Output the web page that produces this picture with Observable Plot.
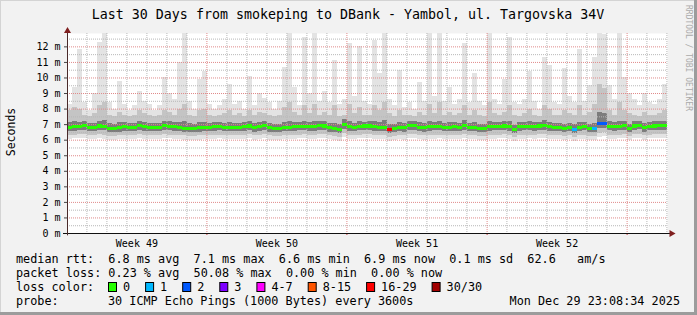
<!DOCTYPE html>
<html><head><meta charset="utf-8">
<script src="https://cdn.jsdelivr.net/npm/d3@7"></script>
<script src="https://cdn.jsdelivr.net/npm/@observablehq/plot@0.6"></script>
<style>
html,body{margin:0;padding:0;background:#f2f2f2;}
#chart{position:relative;width:697px;height:315px;overflow:hidden;}
svg text{white-space:pre;}
</style></head><body><div id="chart"></div>
<script>
// ---------- data ----------
const title = "Last 30 Days from smokeping to DBank - Yambol, ul. Targovska 34V";
const yLabel = "Seconds";
const watermark = "RRDTOOL / TOBI OETIKER";
const days = 30;
const yTicks = [0,1,2,3,4,5,6,7,8,9,10,11,12];
const weekBounds = [6.97, 13.97, 20.98, 27.98];
const weekLabels = ["Week 49", "Week 50", "Week 51", "Week 52"];

// median rtt (ms), 120 samples of 6 h
const med = [6.78,6.82,6.85,6.9,6.8,6.78,6.88,6.86,6.72,6.7,6.76,6.84,6.8,6.78,6.9,6.84,6.8,6.78,6.8,6.92,
6.86,6.82,6.8,6.74,6.72,6.7,6.76,6.8,6.78,6.84,6.86,6.8,6.8,6.8,6.8,6.84,6.88,6.76,6.82,6.9,
6.76,6.74,6.7,6.78,6.8,6.82,6.84,6.86,6.84,6.82,6.92,6.88,6.76,6.74,6.66,7.0,6.84,6.8,6.86,6.88,
6.88,6.84,6.8,6.78,6.68,6.72,6.78,6.76,6.9,6.92,6.8,6.76,6.82,6.84,6.86,6.78,6.8,6.82,6.78,6.92,
6.8,6.78,6.74,6.72,6.82,6.84,6.86,6.88,6.84,6.64,6.82,6.84,6.86,6.84,6.88,6.9,6.82,6.8,6.78,6.7,
6.78,6.66,6.8,6.84,6.72,6.74,7.04,7.06,6.84,6.82,6.86,6.9,6.74,6.88,6.92,6.76,6.86,6.88,6.9,6.9];
// max ping
const mx = [8.3,9.4,11.8,8.4,7.9,9.0,12.3,13,8.4,8.0,9.8,8.3,7.9,8.2,9.1,8.5,8.3,7.9,8.2,10.0,
9.0,8.6,11.0,13,8.5,8.0,9.9,10.4,8.3,8.0,8.2,8.6,9.6,8.3,8.5,8.0,10.1,8.2,9.0,8.7,
8.4,8.0,8.5,10.7,13,9.4,8.2,12.6,9.0,13,8.5,9.1,8.4,11.1,8.3,8.6,12.2,8.8,12.0,8.5,
8.3,12.4,10.3,13,8.6,8.2,10.5,8.1,8.4,8.0,9.7,8.5,13,8.8,13,8.5,9.4,8.3,8.6,12.2,
8.4,10.3,8.5,8.2,13,8.6,8.3,9.9,12.6,8.4,8.3,8.6,10.4,8.5,8.0,11.3,10.8,8.4,8.3,10.6,
8.8,8.4,11.8,8.5,9.5,11.3,13,12.8,9.5,8.6,13,10.0,9.0,8.6,8.2,9.0,8.4,8.3,8.6,9.6];
// upper smoke (about p90)
const hi = [7.9,8.1,8.0,7.6,7.5,7.7,8.2,8.4,7.6,7.5,7.8,7.6,7.5,7.6,7.9,7.7,7.6,7.5,7.6,7.9,
7.8,7.6,8.0,8.3,7.6,7.5,7.9,8.0,7.6,7.5,7.6,7.7,7.9,7.6,7.7,7.5,7.9,7.6,7.8,7.7,
7.6,7.5,7.6,8.1,8.4,7.8,7.6,8.2,7.7,8.3,7.6,7.8,7.6,8.2,7.5,7.6,8.3,7.7,8.1,7.6,
7.6,8.2,7.9,8.4,7.7,7.5,7.9,7.6,7.6,7.5,7.8,7.6,8.3,7.7,8.4,7.6,7.8,7.6,7.7,8.2,
7.6,7.9,7.6,7.5,8.4,7.7,7.6,7.8,8.2,7.6,7.5,7.7,8.0,7.6,7.5,8.2,8.0,7.6,7.6,7.9,
7.7,7.6,8.2,7.6,7.8,8.3,9.6,9.3,7.9,7.6,8.4,7.9,7.7,7.6,7.5,7.8,7.6,7.6,7.7,7.9];
// dense core top (about p75)
const q3 = [7.12,7.18,7.15,7.2,7.1,7.08,7.22,7.25,7.05,7.04,7.12,7.15,7.1,7.08,7.2,7.14,7.1,7.08,7.1,7.22,
7.18,7.12,7.14,7.2,7.06,7.02,7.12,7.15,7.08,7.12,7.16,7.1,7.12,7.1,7.1,7.12,7.18,7.06,7.12,7.2,
7.06,7.04,7.02,7.12,7.2,7.14,7.14,7.22,7.14,7.2,7.22,7.2,7.06,7.1,7.0,7.3,7.2,7.1,7.22,7.16,
7.18,7.2,7.12,7.25,7.0,7.02,7.12,7.06,7.2,7.22,7.12,7.06,7.2,7.14,7.22,7.08,7.12,7.12,7.08,7.24,
7.1,7.12,7.04,7.02,7.22,7.14,7.16,7.2,7.2,6.96,7.12,7.14,7.2,7.14,7.16,7.24,7.16,7.1,7.08,7.04,
7.1,7.0,7.16,7.14,7.04,7.1,7.8,7.7,7.2,7.12,7.2,7.22,7.04,7.18,7.22,7.08,7.16,7.18,7.2,7.22];
// dense core bottom (about p25)
const q1 = [6.55,6.58,6.6,6.62,6.56,6.55,6.6,6.6,6.5,6.48,6.52,6.58,6.56,6.55,6.62,6.58,6.56,6.54,6.56,6.64,
6.6,6.58,6.56,6.52,6.5,6.48,6.52,6.56,6.54,6.58,6.6,6.56,6.56,6.56,6.56,6.58,6.62,6.52,6.58,6.62,
6.52,6.5,6.48,6.54,6.56,6.58,6.6,6.6,6.58,6.56,6.64,6.62,6.52,6.5,6.44,6.7,6.58,6.56,6.6,6.62,
6.62,6.58,6.56,6.54,6.44,6.48,6.54,6.52,6.62,6.64,6.56,6.52,6.58,6.6,6.6,6.54,6.56,6.58,6.54,6.64,
6.56,6.54,6.5,6.48,6.58,6.6,6.6,6.62,6.58,6.42,6.58,6.6,6.6,6.58,6.62,6.64,6.58,6.56,6.54,6.48,
6.54,6.44,6.56,6.6,6.5,6.5,6.72,6.74,6.6,6.58,6.6,6.64,6.5,6.62,6.66,6.52,6.6,6.62,6.64,6.64];
// lower smoke (about p10)
const lo = [6.3,6.32,6.34,6.35,6.3,6.28,6.34,6.33,6.25,6.24,6.28,6.32,6.3,6.3,6.35,6.32,6.3,6.29,6.3,6.36,
6.33,6.32,6.3,6.27,6.26,6.24,6.27,6.3,6.29,6.32,6.33,6.3,6.3,6.3,6.3,6.32,6.34,6.28,6.31,6.35,
6.27,6.26,6.24,6.28,6.3,6.32,6.33,6.34,6.32,6.31,6.36,6.35,6.28,6.26,6.2,6.4,6.32,6.3,6.33,6.34,
6.34,6.32,6.3,6.29,6.2,6.24,6.28,6.27,6.34,6.36,6.3,6.27,6.31,6.32,6.33,6.28,6.3,6.31,6.29,6.36,
6.3,6.29,6.26,6.25,6.31,6.32,6.33,6.35,6.32,6.18,6.31,6.32,6.33,6.32,6.35,6.36,6.31,6.3,6.29,6.24,
6.29,6.2,6.3,6.32,6.25,6.26,6.45,6.47,6.33,6.31,6.33,6.36,6.26,6.34,6.37,6.28,6.33,6.34,6.35,6.36];
// min ping
const mn = [6.05,6.08,6.1,6.1,6.04,6.02,6.08,6.06,5.98,5.96,6.02,6.06,6.04,6.03,6.1,6.06,6.04,6.02,6.04,6.12,
6.08,6.06,6.04,6.0,5.98,5.96,6.0,6.04,6.02,6.06,6.08,6.04,6.04,6.04,6.04,6.06,6.1,6.0,6.05,6.1,
6.0,5.98,5.96,6.02,6.04,6.06,6.08,6.08,6.06,6.05,6.12,6.1,6.02,5.98,5.9,6.16,6.06,6.04,6.08,6.1,
6.1,6.06,6.04,6.02,5.92,5.96,6.02,6.0,6.08,6.12,6.04,6.0,6.05,6.06,6.08,6.02,6.04,6.06,6.02,6.12,
6.04,6.02,5.98,5.96,6.05,6.06,6.08,6.1,6.06,5.9,6.05,6.06,6.08,6.06,6.1,6.12,6.05,6.04,6.02,5.96,
6.02,5.92,6.04,6.06,5.98,5.98,6.2,6.22,6.06,6.04,6.08,6.12,5.98,6.08,6.12,6.0,6.08,6.1,6.1,6.12];
// samples with packet loss: sample index and loss-colour class
const lossIdx = [64, 101, 105, 106, 107];
const lossCls = [6, 1, 1, 2, 2];
const lossNames = ["0", "1", "2", "3", "4-7", "8-15", "16-29", "30/30"];
const lossColors = ["#26ff00", "#00b8ff", "#0059ff", "#7e00ff", "#ff00ff", "#ff5500", "#ff0000", "#a10000"];

const rttStats = ["6.8 ms avg", "7.1 ms max", "6.6 ms min", "6.9 ms now", "0.1 ms sd", "62.6   am/s"];
const lossStats = ["0.23 % avg", "50.08 % max", "0.00 % min", "0.00 % now"];
const probeText = "30 ICMP Echo Pings (1000 Bytes) every 3600s";
const stamp = "Mon Dec 29 23:08:34 2025";

// ---------- build ----------
const N = med.length, step = days / N;
const rows = med.map((m, i) => ({a: i * step, b: (i + 1) * step, med: m, mx: mx[i], hi: hi[i], q3: q3[i], q1: q1[i], lo: lo[i], mn: mn[i], loss: 0}));
lossIdx.forEach((idx, k) => { rows[idx].loss = lossCls[k]; });

const yMax = 12.86;
const medHalf = 0.1;
const minorY = d3.range(0.5, 12.6, 1);
const majorY = d3.range(1, 13, 1);
const dayLines = d3.range(0.97, days, 1).filter(d => !weekBounds.some(b => Math.abs(b - d) < 0.1));
const gridGrey = "#b8b8b8", gridRed = "#e08a8a";
const MONO = "DejaVu Sans Mono";

const plot = Plot.plot({
  width: 697, height: 315,
  marginLeft: 67, marginRight: 30, marginTop: 33, marginBottom: 82,
  x: {domain: [0, days], axis: null},
  y: {domain: [0, yMax], axis: null},
  color: {type: "identity"},
  style: {background: "transparent", fontFamily: MONO, fontSize: "10px", color: "#000", overflow: "visible"},
  marks: [
    Plot.frame({fill: "#ffffff", stroke: "none"}),
    Plot.rect(rows, {x1: "a", x2: "b", y1: "mn", y2: "mx", fill: "#e3e3e3", clip: true, shapeRendering: "crispEdges"}),
    Plot.rect(rows, {x1: "a", x2: "b", y1: "lo", y2: "hi", fill: "#c4c4c4", clip: true, shapeRendering: "crispEdges"}),
    Plot.rect(rows, {x1: "a", x2: "b", y1: "q1", y2: "q3", fill: "#7c7c7c", clip: true, shapeRendering: "crispEdges"}),
    Plot.ruleY(minorY, {stroke: gridGrey, strokeDasharray: "1,1"}),
    Plot.ruleY(majorY, {stroke: gridRed, strokeDasharray: "1,1"}),
    Plot.ruleX(dayLines, {stroke: gridGrey, strokeDasharray: "1,1"}),
    Plot.ruleX(weekBounds, {stroke: gridRed, strokeDasharray: "1,1"}),
    Plot.rect(rows, {x1: "a", x2: "b", y1: d => d.med - medHalf, y2: d => d.med + medHalf, fill: d => lossColors[d.loss], shapeRendering: "crispEdges"}),
    Plot.axisY({ticks: yTicks, tickSize: 3, tickPadding: 4, tickFormat: d => `${d} m`, fontSize: 10, fontFamily: MONO, stroke: "#444"}),
    Plot.axisX({ticks: weekBounds, tickSize: 2, tickFormat: () => "", stroke: "#d04040"}),
    Plot.text(weekLabels, {x: (d, i) => weekBounds[i] - 3.5, y: 0, dy: 10, text: d => d, fontSize: 10, fontFamily: MONO, lineAnchor: "middle", fill: "#000"}),
    Plot.ruleY([0], {x1: -0.2, x2: 30.15, stroke: "#111"}),
    Plot.ruleX([0], {y1: -0.15, y2: 13.0, stroke: "#4a2a2a"}),
    Plot.dot([0], {x: 0, y: 13.02, symbol: "triangle", r: 2.6, fill: "#7f1f1f", stroke: "none"}),
    Plot.dot([0], {x: 30.2, y: 0, symbol: "triangle", rotate: 90, r: 2.6, fill: "#7f1f1f", stroke: "none"})
  ]
});
document.getElementById("chart").appendChild(plot);

// ---------- texts / frame ----------
const svg = d3.select(plot);
svg.insert("rect", ":first-child").attr("x", 0).attr("y", 0).attr("width", 697).attr("height", 315).attr("fill", "#f2f2f2");
svg.append("rect").attr("x", 0).attr("y", 0).attr("width", 697).attr("height", 1).attr("fill", "#d4d4d4");
svg.append("rect").attr("x", 0).attr("y", 0).attr("width", 1).attr("height", 315).attr("fill", "#d4d4d4");
svg.append("rect").attr("x", 694).attr("y", 0).attr("width", 3).attr("height", 315).attr("fill", "#9c9c9c");
svg.append("rect").attr("x", 0).attr("y", 312).attr("width", 697).attr("height", 3).attr("fill", "#9c9c9c");

const txt = (x, y, s, size, opts = {}) => svg.append("text")
  .attr("x", x).attr("y", y).attr("dominant-baseline", "central")
  .attr("text-anchor", opts.anchor || "start")
  .attr("fill", opts.fill || "#000")
  .style("font-family", MONO).style("font-size", size + "px").style("white-space", "pre")
  .text(s);

txt(348, 14, title, 13.3, {anchor: "middle"});
svg.append("text").attr("transform", "translate(11,132) rotate(-90)")
  .attr("text-anchor", "middle").attr("dominant-baseline", "central")
  .style("font-family", MONO).style("font-size", "11.5px").text(yLabel);
svg.append("text").attr("transform", "translate(688,5) rotate(90)")
  .attr("text-anchor", "start").attr("dominant-baseline", "central").attr("fill", "#aaaaaa")
  .style("font-family", MONO).style("font-size", "8px").text(watermark);

const LF = 11.8, CW = 7.1;
txt(16, 259, "median rtt:  " + rttStats.join("  "), LF);
txt(16, 273, "packet loss: " + lossStats.join("  "), LF);
txt(16, 287, "loss color:", LF);
let lx = 108;
lossNames.forEach((name, i) => {
  svg.append("rect").attr("x", lx + 0.5).attr("y", 282.5).attr("width", 8).attr("height", 9)
    .attr("fill", lossColors[i]).attr("stroke", "#000").attr("stroke-width", 1);
  txt(lx + 15, 287, name, LF);
  lx = lx + 15 + name.length * CW + 15;
});
txt(16, 301, "probe:", LF);
txt(108, 301, probeText, LF);
txt(680, 301, stamp, LF, {anchor: "end"});
</script></body></html>
